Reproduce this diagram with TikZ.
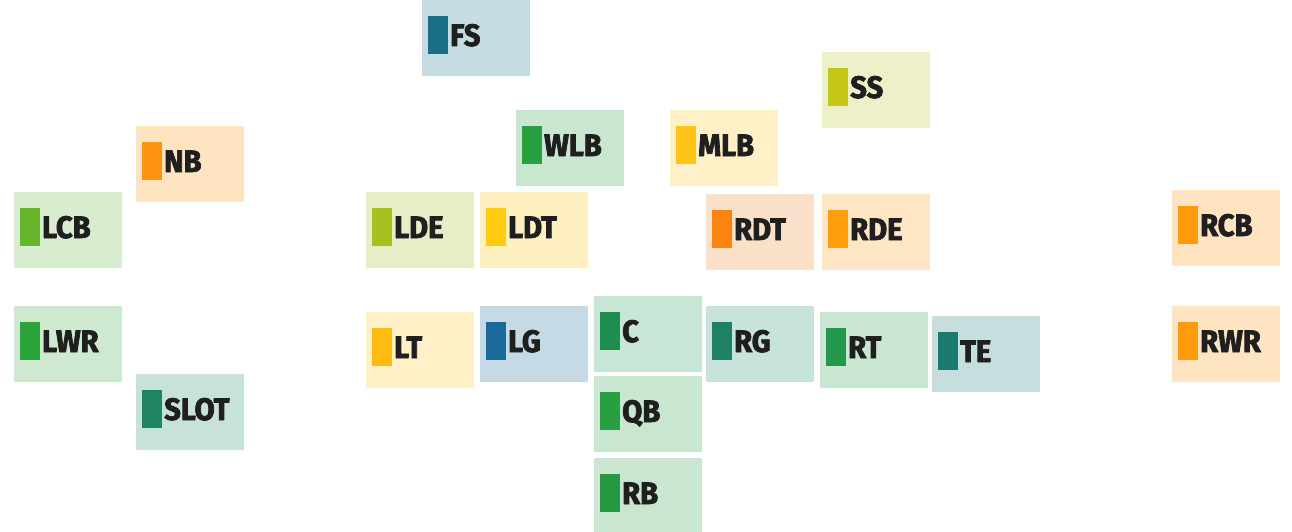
\documentclass[tikz,border=0pt]{standalone}
\usepackage{fontspec}
\setmainfont{Fira Sans}[BoldFont={* Bold},BoldFeatures={FakeBold=2.4},FakeStretch=0.94]
\begin{document}
\begin{tikzpicture}[x=1pt,y=-1pt,
  box/.style={draw=none,inner sep=0,minimum width=108pt,minimum height=76pt,anchor=north west},
  chip/.style={draw=none,inner sep=0,minimum width=20pt,minimum height=38pt},
  lab/.style={inner sep=0,anchor=base west,text=black!88,font=\fontsize{31}{31}\selectfont\bfseries}]
\useasboundingbox (0,0) rectangle (1292,532);
\newcommand{\pl}[6]{%
  \definecolor{bg#1}{HTML}{#4}\definecolor{mk#1}{HTML}{#5}%
  \node[box,fill=bg#1] (#1) at (#2,#3) {};
  \node[chip,fill=mk#1] (#1m) at (#2+16,#3+35) {};
  \node[lab] (#1t) at (#2+28,#3+46) {#6};}
\pl{FS}{422}{0}{C5DDE2}{1A6E85}{FS}
\pl{SS}{822}{52}{EEF0C8}{C5C615}{SS}
\pl{WLB}{516}{110}{C8E6D0}{28A040}{WLB}
\pl{MLB}{670}{110}{FFF0C8}{FFC41A}{MLB}
\pl{NB}{136}{126}{FFE4C2}{FF9410}{NB}
\pl{LCB}{14}{192}{D8ECD0}{68B42A}{LCB}
\pl{LDE}{366}{192}{E6EEC8}{A8C020}{LDE}
\pl{LDT}{480}{192}{FFF0C0}{FFCB10}{LDT}
\pl{RDT}{706}{194}{FAE0C8}{FA8410}{RDT}
\pl{RDE}{822}{194}{FFE6C4}{FF9E0A}{RDE}
\pl{RCB}{1172}{190}{FFE4C2}{FF9A0A}{RCB}
\pl{LWR}{14}{306}{CFE9D0}{28A438}{LWR}
\pl{LT}{366}{312}{FFF0C8}{FFBB10}{LT}
\pl{LG}{480}{306}{C6DAE6}{1A6A9A}{LG}
\pl{C}{594}{296}{C8E6D6}{1F8C50}{C}
\pl{RG}{706}{306}{C8E2DC}{1E8064}{RG}
\pl{RT}{820}{312}{C8E6D2}{24984A}{RT}
\pl{TE}{932}{316}{C6DEDE}{1A7A70}{TE}
\pl{RWR}{1172}{306}{FFE4C2}{FF9A0A}{RWR}
\pl{SLOT}{136}{374}{C8E2DA}{1E8462}{SLOT}
\pl{QB}{594}{376}{C8E6D0}{28A040}{QB}
\pl{RB}{594}{458}{C8E6D0}{26983F}{RB}
\end{tikzpicture}
\end{document}
